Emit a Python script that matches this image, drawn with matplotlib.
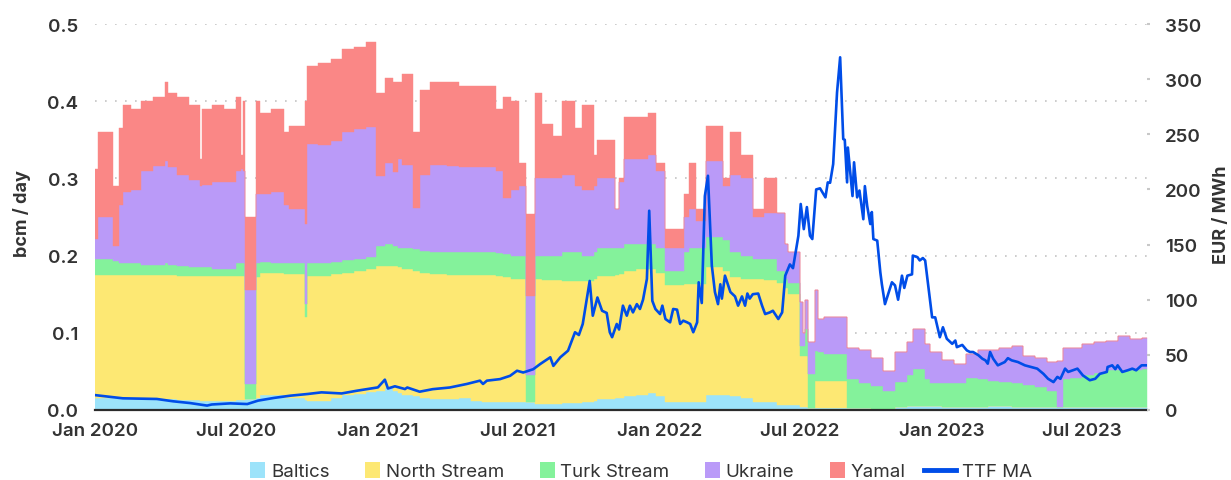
import matplotlib
matplotlib.use("Agg")
import matplotlib.pyplot as plt
import matplotlib.dates as mdates
from matplotlib.patches import Patch
from matplotlib.lines import Line2D
from matplotlib.legend_handler import HandlerBase
import numpy as np
import pandas as pd

plt.rcParams['font.family'] = ['Inter', 'DejaVu Sans']

# flows in bcm / day, each value holds until the next date
flow_dates = [
    '2020-01-01', '2020-01-05', '2020-01-24', '2020-02-01', '2020-02-06', '2020-02-16',
    '2020-03-01', '2020-03-16', '2020-04-01', '2020-04-04', '2020-04-16', '2020-05-01',
    '2020-05-16', '2020-05-19', '2020-06-01', '2020-06-16', '2020-07-01', '2020-07-08',
    '2020-07-11', '2020-07-13', '2020-07-27', '2020-08-01', '2020-08-16', '2020-09-01',
    '2020-09-08', '2020-09-29', '2020-10-01', '2020-10-16', '2020-11-01', '2020-11-16',
    '2020-12-01', '2020-12-16', '2020-12-30', '2021-01-10', '2021-01-20', '2021-01-27',
    '2021-02-01', '2021-02-16', '2021-02-25', '2021-03-10', '2021-04-01', '2021-04-16',
    '2021-05-01', '2021-05-16', '2021-06-03', '2021-06-12', '2021-06-22', '2021-07-03',
    '2021-07-11', '2021-07-23', '2021-08-01', '2021-08-16', '2021-08-27', '2021-09-13',
    '2021-09-22', '2021-10-08', '2021-10-12', '2021-11-04', '2021-11-09', '2021-11-16',
    '2021-12-01', '2021-12-16', '2021-12-27', '2022-01-08', '2022-02-01', '2022-02-08',
    '2022-02-16', '2022-03-01', '2022-03-24', '2022-04-01', '2022-04-16', '2022-05-01',
    '2022-05-15', '2022-06-01', '2022-06-12', '2022-06-16', '2022-07-01', '2022-07-05',
    '2022-07-07', '2022-07-11', '2022-07-21', '2022-07-25', '2022-08-01', '2022-08-31',
    '2022-09-16', '2022-10-01', '2022-10-16', '2022-11-01', '2022-11-16', '2022-11-24',
    '2022-12-10', '2022-12-16', '2023-01-01', '2023-01-16', '2023-02-01', '2023-02-16',
    '2023-03-01', '2023-03-16', '2023-04-01', '2023-04-16', '2023-05-01', '2023-05-16',
    '2023-05-30', '2023-06-06', '2023-06-16', '2023-07-01', '2023-07-16', '2023-08-01',
    '2023-08-16', '2023-09-01', '2023-09-16', '2023-09-23',
]
baltics = [
    .015, .015, .015, .015, .015, .014, .014, .014, .014, .014, .013, .013,
    .012, .012, .012, .012, .013, .013, .013, .014, .015, .019, .019, .015,
    .015, .013, .012, .012, .016, .019, .021, .023, .025, .028, .025, .022,
    .020, .018, .016, .014, .014, .015, .012, .011, .010, .010, .010, .010,
    .010, .008, .008, .008, .009, .009, .010, .012, .014, .015, .016, .018,
    .020, .022, .018, .010, .010, .010, .010, .020, .020, .018, .015, .010,
    .010, .006, .006, .006, .004, .004, .004, .003, .003, .003, .003, .003,
    .003, .001, .000, .004, .005, .005, .005, .005, .004, .004, .004, .004,
    .005, .005, .004, .004, .004, .004, .004, .004, .004, .004, .004, .004,
    .004, .004, .004, .004,
]
north_stream = [
    .160, .160, .160, .160, .160, .161, .161, .161, .161, .161, .161, .161,
    .162, .162, .162, .162, .161, .161, .161, .000, .157, .159, .159, .161,
    .161, .107, .162, .162, .160, .159, .159, .160, .161, .158, .161, .163,
    .163, .162, .162, .162, .161, .160, .163, .164, .164, .162, .160, .160,
    .000, .162, .160, .160, .158, .158, .157, .158, .160, .160, .160, .162,
    .162, .160, .160, .152, .153, .153, .153, .165, .160, .154, .155, .160,
    .158, .159, .152, .144, .066, .066, .066, .000, .035, .035, .035, .000,
    .000, .000, .000, .000, .000, .000, .000, .000, .000, .000, .000, .000,
    .000, .000, .000, .000, .000, .000, .000, .000, .000, .000, .000, .000,
    .000, .000, .000, .000,
]
turk_stream = [
    .020, .020, .018, .015, .015, .015, .013, .013, .015, .013, .012, .011,
    .011, .011, .009, .009, .016, .016, .016, .020, .018, .014, .012, .014,
    .014, .017, .016, .016, .016, .016, .016, .015, .026, .029, .026, .025,
    .027, .028, .028, .029, .030, .030, .030, .030, .030, .030, .030, .030,
    .035, .030, .032, .032, .038, .038, .033, .035, .036, .035, .034, .035,
    .033, .033, .032, .018, .042, .047, .047, .039, .040, .033, .030, .025,
    .027, .015, .012, .015, .013, .013, .035, .044, .039, .037, .034, .037,
    .032, .030, .025, .032, .040, .048, .035, .030, .031, .031, .038, .036,
    .033, .031, .031, .028, .026, .021, .000, .036, .038, .041, .044, .048,
    .048, .048, .049, .049,
]
ukraine = [
    .027, .055, .019, .075, .092, .095, .122, .128, .132, .127, .119, .113,
    .105, .107, .112, .112, .120, .122, .120, .121, .090, .088, .092, .075,
    .070, .104, .155, .153, .156, .166, .168, .168, .091, .105, .096, .115,
    .108, .054, .099, .113, .111, .110, .110, .110, .106, .073, .085, .090,
    .103, .100, .100, .100, .100, .085, .085, .085, .090, .050, .085, .110,
    .110, .115, .100, .030, .045, .050, .035, .098, .070, .100, .100, .055,
    .060, .075, .045, .040, .057, .017, .038, .041, .078, .043, .048, .040,
    .043, .037, .025, .039, .043, .052, .045, .040, .030, .025, .030, .038,
    .040, .044, .048, .038, .037, .037, .060, .040, .038, .040, .040, .038,
    .044, .040, .040, .040,
]
yamal = [
    .090, .110, .078, .100, .113, .105, .090, .089, .103, .095, .100, .097,
    .035, .098, .100, .095, .095, .018, .090, .095, .120, .105, .108, .095,
    .108, .159, .101, .107, .107, .107, .106, .111, .107, .110, .117, .100,
    .117, .098, .110, .107, .109, .105, .105, .105, .080, .130, .115, .030,
    .106, .110, .070, .055, .095, .075, .110, .040, .050, .000, .005, .055,
    .055, .055, .010, .025, .030, .060, .015, .046, .010, .055, .030, .010,
    .045, .000, .000, .000, .000, .000, .000, .000, .000, .000, .000, .000,
    .000, .000, .000, .000, .000, .000, .000, .000, .000, .000, .000, .000,
    .000, .000, .000, .000, .000, .000, .000, .000, .000, .000, .000, .000,
    .000, .000, .000, .000,
]

# TTF moving average, EUR / MWh
ttf_dates = [
    '2020-01-01', '2020-02-06', '2020-03-21', '2020-04-11', '2020-05-03', '2020-05-25',
    '2020-05-31', '2020-06-24', '2020-07-16', '2020-07-30', '2020-08-20', '2020-09-10',
    '2020-10-02', '2020-10-20', '2020-11-15', '2020-12-05', '2021-01-01', '2021-01-10',
    '2021-01-14', '2021-01-23', '2021-02-05', '2021-02-08', '2021-02-24', '2021-03-13',
    '2021-04-04', '2021-04-26', '2021-05-13', '2021-05-17', '2021-05-22', '2021-06-08',
    '2021-06-21', '2021-06-30', '2021-07-08', '2021-07-21', '2021-07-30', '2021-08-12',
    '2021-08-16', '2021-08-25', '2021-09-04', '2021-09-13', '2021-09-18', '2021-09-23',
    '2021-10-02', '2021-10-06', '2021-10-12', '2021-10-18', '2021-10-24', '2021-10-28',
    '2021-10-31', '2021-11-06', '2021-11-09', '2021-11-14', '2021-11-19', '2021-11-23',
    '2021-11-27', '2021-12-02', '2021-12-06', '2021-12-10', '2021-12-15', '2021-12-18',
    '2021-12-22', '2021-12-26', '2022-01-01', '2022-01-04', '2022-01-08', '2022-01-14',
    '2022-01-18', '2022-01-23', '2022-01-27', '2022-01-31', '2022-02-05', '2022-02-09',
    '2022-02-13', '2022-02-18', '2022-02-20', '2022-02-24', '2022-02-28', '2022-03-04',
    '2022-03-09', '2022-03-13', '2022-03-17', '2022-03-20', '2022-03-22', '2022-03-26',
    '2022-04-02', '2022-04-08', '2022-04-12', '2022-04-17', '2022-04-21', '2022-04-24',
    '2022-04-27', '2022-05-01', '2022-05-08', '2022-05-13', '2022-05-17', '2022-05-23',
    '2022-05-27', '2022-06-03', '2022-06-08', '2022-06-12', '2022-06-18', '2022-06-22',
    '2022-06-29', '2022-07-02', '2022-07-06', '2022-07-10', '2022-07-14', '2022-07-17',
    '2022-07-22', '2022-07-27', '2022-08-03', '2022-08-06', '2022-08-09', '2022-08-13',
    '2022-08-18', '2022-08-22', '2022-08-26', '2022-08-28', '2022-08-31', '2022-09-01',
    '2022-09-07', '2022-09-09', '2022-09-13', '2022-09-16', '2022-09-21', '2022-09-23',
    '2022-09-26', '2022-09-30', '2022-10-02', '2022-10-04', '2022-10-09', '2022-10-13',
    '2022-10-15', '2022-10-19', '2022-10-28', '2022-11-01', '2022-11-05', '2022-11-10',
    '2022-11-13', '2022-11-17', '2022-11-23', '2022-11-24', '2022-11-30', '2022-12-03',
    '2022-12-07', '2022-12-10', '2022-12-19', '2022-12-23', '2022-12-29', '2023-01-02',
    '2023-01-07', '2023-01-14', '2023-01-18', '2023-01-20', '2023-01-27', '2023-02-02',
    '2023-02-06', '2023-02-10', '2023-02-17', '2023-02-22', '2023-02-26', '2023-03-01',
    '2023-03-04', '2023-03-08', '2023-03-14', '2023-03-23', '2023-03-27', '2023-04-01',
    '2023-04-09', '2023-04-18', '2023-05-04', '2023-05-12', '2023-05-18', '2023-05-25',
    '2023-05-30', '2023-06-03', '2023-06-09', '2023-06-13', '2023-06-25', '2023-07-02',
    '2023-07-11', '2023-07-18', '2023-07-24', '2023-08-02', '2023-08-03', '2023-08-09',
    '2023-08-13', '2023-08-16', '2023-08-22', '2023-08-29', '2023-09-04', '2023-09-09',
    '2023-09-16', '2023-09-22',
]
ttf_ma = [
    13.5, 10.6, 10.0, 7.9, 6.3, 4.0,
    5.0, 6.0, 5.4, 8.5, 11.0, 13.0,
    14.5, 16.0, 15.0, 17.5, 20.5, 27.5,
    19.5, 21.5, 19.0, 20.4, 16.6, 18.9,
    20.4, 23.6, 26.6, 23.6, 26.6, 28.0,
    31.0, 35.6, 34.0, 37.0, 41.7, 47.8,
    40.0, 47.8, 53.8, 70.5, 68.0, 78.0,
    117.0, 85.5, 102.0, 90.0, 88.0, 70.5,
    66.0, 78.0, 73.0, 94.6, 85.5, 94.6,
    88.5, 96.0, 91.6, 100.0, 118.8, 180.7,
    99.0, 91.6, 87.0, 94.6, 82.5, 79.5,
    91.6, 91.0, 78.0, 81.0, 79.5, 78.0,
    70.5, 79.5, 115.8, 97.0, 194.0, 212.4,
    131.0, 107.0, 96.0, 114.0, 101.0, 121.8,
    107.0, 103.0, 94.6, 103.0, 94.6, 105.6,
    101.0, 105.0, 105.6, 94.6, 87.0, 88.5,
    90.0, 82.5, 88.5, 121.8, 132.0, 128.6,
    158.0, 186.8, 164.0, 184.0, 158.0, 155.0,
    200.0, 201.0, 192.8, 206.4, 206.0, 223.0,
    288.0, 319.8, 245.7, 245.0, 206.4, 238.0,
    194.0, 224.6, 192.8, 199.0, 173.0, 203.0,
    185.0, 168.6, 179.5, 155.0, 153.6, 124.8,
    114.0, 96.0, 115.8, 113.0, 100.0, 121.8,
    110.7, 121.8, 123.0, 140.0, 138.6, 135.6,
    137.8, 135.6, 84.0, 84.0, 66.0, 75.0,
    64.6, 60.0, 63.0, 57.0, 59.0, 54.0,
    52.6, 52.6, 49.6, 46.5, 45.0, 42.0,
    52.6, 46.5, 40.5, 43.5, 47.0, 45.0,
    43.5, 40.5, 37.5, 32.8, 28.3, 25.3,
    30.0, 28.3, 37.5, 34.5, 37.5, 31.4,
    27.0, 28.3, 32.8, 34.5, 39.0, 40.5,
    37.0, 40.5, 34.5, 36.0, 37.5, 36.0,
    40.5, 40.5,
]

labels = ['Baltics', 'North Stream', 'Turk Stream', 'Ukraine', 'Yamal']
colors = ['#9ce3fa', '#fde873', '#84f29b', '#ba9af8', '#fa8786']
line_color = '#004de8'
text_color = '#333333'

x = pd.to_datetime(flow_dates)

fig = plt.figure(figsize=(12.31, 4.81), dpi=100)
ax = fig.add_axes([95 / 1231, 70 / 481, 1052 / 1231, 386 / 481])

bottom = np.zeros(len(x))
for vals, col, lab in zip([baltics, north_stream, turk_stream, ukraine, yamal], colors, labels):
    top = bottom + np.array(vals)
    ax.fill_between(x, bottom, top, step='post', facecolor=col, edgecolor=col,
                    linewidth=0.3, label=lab)
    bottom = top

ax.set_xlim(pd.Timestamp('2020-01-01'), pd.Timestamp('2023-09-23'))
ax.set_ylim(0, 0.5)
ax.set_yticks(np.arange(0, 0.51, 0.1))
ax.yaxis.set_major_formatter(plt.FuncFormatter(lambda v, p: f'{v:.1f}'))
ax.xaxis.set_major_locator(mdates.MonthLocator(bymonth=[1, 7]))
ax.xaxis.set_major_formatter(mdates.DateFormatter('%b %Y'))
ax.set_axisbelow(True)
ax.yaxis.grid(True, linestyle=(0, (1, 5)), color='#c4c4c4', linewidth=1.2)
for s in ['top', 'left', 'right']:
    ax.spines[s].set_visible(False)
ax.spines['bottom'].set_color('#2b2b2b')
ax.spines['bottom'].set_linewidth(1.6)
ax.tick_params(axis='y', length=0, pad=12, labelsize=13.5, labelcolor=text_color)
ax.tick_params(axis='x', length=0, pad=9, labelsize=13.5, labelcolor=text_color)
for lbl in ax.get_xticklabels() + ax.get_yticklabels():
    lbl.set_fontweight('semibold')

ax2 = ax.twinx()
ax2.plot(pd.to_datetime(ttf_dates), ttf_ma, color=line_color, linewidth=1.9)
ax2.set_ylim(0, 350)
ax2.set_yticks(np.arange(0, 351, 50))
for s in ax2.spines.values():
    s.set_visible(False)
ax2.tick_params(axis='y', length=2, width=1.5, color='#c8c8c8', pad=11,
                labelsize=13.5, labelcolor=text_color)
for lbl in ax2.get_yticklabels():
    lbl.set_fontweight('semibold')

fig.text(22 / 1231, 1 - 214 / 481, 'bcm / day', rotation=90, ha='center', va='center',
         fontsize=13, fontweight='bold', color=text_color)
fig.text(1221 / 1231, 1 - 215 / 481, 'EUR / MWh', rotation=90, ha='center', va='center',
         fontsize=13, fontweight='bold', color=text_color)


class LongLine(HandlerBase):
    def create_artists(self, legend, orig_handle, xdescent, ydescent, width, height,
                       fontsize, trans):
        y = height / 2 - ydescent
        ln = Line2D([width - 1.7 * fontsize, width], [y, y], color=line_color,
                    linewidth=3.5, transform=trans)
        return [ln]


handles = [Patch(facecolor=c, edgecolor='none') for c in colors]
ttf_handle = Line2D([], [], color=line_color)
leg = fig.legend(handles + [ttf_handle], labels + ['TTF MA'], loc='center',
                 bbox_to_anchor=(641 / 1231, 1 - 472 / 481), ncol=6, frameon=False,
                 fontsize=13.5, handlelength=0.8, handleheight=0.92, handletextpad=0.3,
                 columnspacing=1.9, labelcolor=text_color,
                 handler_map={ttf_handle: LongLine()})

fig.savefig('out.png', dpi=100)
